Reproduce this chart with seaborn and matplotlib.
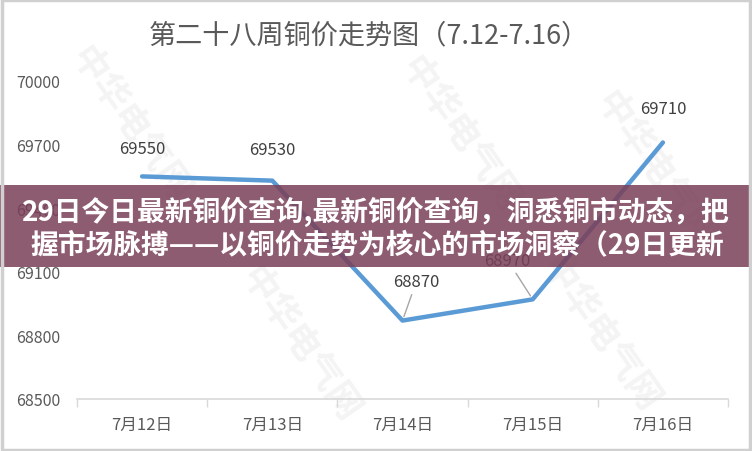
import matplotlib
matplotlib.use("Agg")
import matplotlib.pyplot as plt
from matplotlib.patches import Rectangle
import seaborn as sns
import pandas as pd

# data
dates = ["7月12日", "7月13日", "7月14日", "7月15日", "7月16日"]
prices = [69550, 69530, 68870, 68970, 69710]
yticks = [68500, 68800, 69100, 69400, 69700, 70000]

title = "第二十八周铜价走势图（7.12-7.16）"
banner_lines = ["29日今日最新铜价查询,最新铜价查询，洞悉铜市动态，把",
                "握市场脉搏——以铜价走势为核心的市场洞察（29日更新"]

sns.set_theme(style="white")
plt.rcParams['font.family'] = ['Noto Sans CJK SC', 'DejaVu Sans']

df = pd.DataFrame({"date": dates, "price": prices})

fig = plt.figure(figsize=(7.52, 4.52), dpi=100)
ax = fig.add_axes([77/752, 1 - 400/452, (728-77)/752, (400-82)/452])
ax.set_zorder(2)
ax.set_facecolor("none")

# faint diagonal watermark (behind the axes)
for (wx, wy) in [(130, 125), (460, 135), (655, 170), (300, 345), (600, 335)]:
    fig.text(wx/752, 1 - wy/452, "中华电气网", fontsize=26, color="#f4f4f4",
             rotation=-55, ha="center", va="center", zorder=0, fontweight="bold")

sns.lineplot(data=df, x="date", y="price", sort=False, color="#5B9BD5",
             linewidth=3.2, ax=ax, zorder=3)

# data labels
offsets = {0: (0, 14), 1: (0, 16), 2: (10, 22), 3: (-18, 22), 4: (0, 18)}
for i, v in enumerate(prices):
    dx, dy = offsets[i]
    if i in (2, 3):
        ax.annotate(str(v), xy=(i, v), xytext=(dx, dy), textcoords="offset points",
                    ha="center", va="bottom", fontsize=12, color="#404040",
                    arrowprops=dict(arrowstyle="-", color="#a6a6a6", lw=1.0,
                                    shrinkA=1, shrinkB=3))
    else:
        ax.annotate(str(v), xy=(i, v), xytext=(dx, dy), textcoords="offset points",
                    ha="center", va="bottom", fontsize=12, color="#404040")

ax.set_ylim(68500, 70000)
ax.set_xlim(-0.5, 4.5)
ax.set_yticks(yticks)
ax.set_yticklabels([str(t) for t in yticks], color="#595959", fontsize=11.5)
ax.set_xticks(range(len(dates)))
ax.set_xticklabels(dates, color="#595959", fontsize=12)
ax.set_xticks([i - 0.5 for i in range(len(dates) + 1)], minor=True)
ax.tick_params(axis="y", length=0, pad=12)
ax.tick_params(axis="x", which="major", length=0, pad=12)
ax.tick_params(axis="x", which="minor", length=6, width=1, color="#d9d9d9", bottom=True)
ax.set_xlabel("")
ax.set_ylabel("")
for s in ["top", "right", "left"]:
    ax.spines[s].set_visible(False)
ax.spines["bottom"].set_color("#d9d9d9")
ax.spines["bottom"].set_linewidth(1.2)

fig.text(369/752, 1 - 36/452, title, fontsize=19.5, color="#595959",
         ha="center", va="center", fontweight="light", zorder=3)

# overlay banner
fig.patches.append(Rectangle((0, 1 - 268/452), 1, (268-186)/452, transform=fig.transFigure,
                             facecolor="#7a3f58", alpha=0.85, edgecolor="none", zorder=10))
fig.text(376/752, 1 - 212/452, banner_lines[0], fontsize=20, color="white",
         fontweight="bold", ha="center", va="center", zorder=11)
fig.text(377/752, 1 - 246/452, banner_lines[1], fontsize=20, color="white",
         fontweight="bold", ha="center", va="center", zorder=11)

# thin frame
fig.patches.append(Rectangle((0.002, 0.003), 0.996, 0.994, transform=fig.transFigure,
                             facecolor="none", edgecolor="#d0d0d0", lw=2.5, zorder=12))

fig.savefig("out.png", dpi=100)
